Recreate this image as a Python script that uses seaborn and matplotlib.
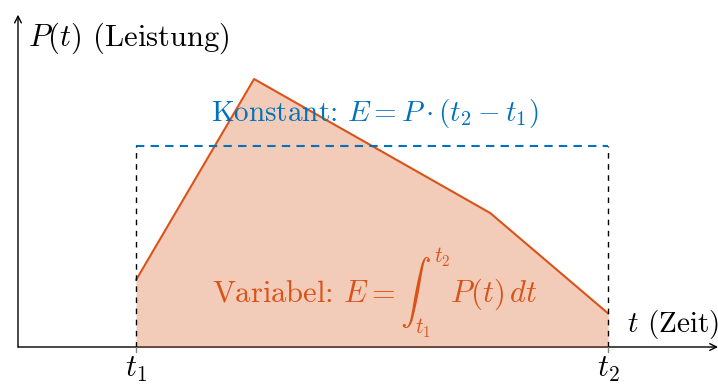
import matplotlib
matplotlib.use("Agg")
import matplotlib.pyplot as plt
import seaborn as sns
import pandas as pd

# power curve (time, power)
t_points = [1, 2, 4, 5]
p_points = [1, 4, 2, 0.5]
t1, t2 = 1, 5
p_const = 3
x_max, y_max = 5.93, 4.96

orange = "#d95319"
blue = "#0072bd"

sns.set_theme(style="white")
plt.rcParams["mathtext.fontset"] = "cm"
plt.rcParams["font.family"] = ["cmr10", "DejaVu Serif"]
plt.rcParams["axes.formatter.use_mathtext"] = True

df = pd.DataFrame({"t": t_points, "P": p_points})

fig = plt.figure(figsize=(7.18, 3.85), dpi=100)
ax = fig.add_axes([18 / 718, 38 / 385, 700 / 718, 335 / 385])
ax.set_xlim(0, x_max)
ax.set_ylim(0, 5.0)
ax.axis("off")

# axes with arrows
ax.annotate("", xy=(x_max, 0), xytext=(0, 0),
            arrowprops=dict(arrowstyle="->", color="black", lw=1, shrinkA=0, shrinkB=0),
            annotation_clip=False, zorder=1)
ax.annotate("", xy=(0, y_max), xytext=(0, 0),
            arrowprops=dict(arrowstyle="->", color="black", lw=1, shrinkA=0, shrinkB=0),
            annotation_clip=False, zorder=1)

# variable power: filled area + line
ax.fill_between(df["t"], df["P"], 0, color=orange, alpha=0.3, lw=0, zorder=2)
sns.lineplot(data=df, x="t", y="P", ax=ax, color=orange, lw=1.5, zorder=3)

# constant power rectangle
ax.plot([t1, t2], [p_const, p_const], color=blue, lw=1.5, ls=(0, (4, 3)), zorder=3)
for tv in (t1, t2):
    ax.plot([tv, tv], [0, p_const], color="black", lw=1, ls=(0, (4, 4)), zorder=4)
    ax.plot([tv, tv], [0, -0.08], color="gray", lw=1, clip_on=False, zorder=4)

# labels
fs = 22
ax.text(0.085, 4.61, r"$P(t)$ (Leistung)", fontsize=fs, ha="left", va="center", color="black")
ax.text(5.16, 0.33, r"$t$ (Zeit)", fontsize=fs - 1, ha="left", va="center", clip_on=False, color="black")
ax.text(t1, -0.34, r"$t_1$", fontsize=22, ha="center", va="center", color="black")
ax.text(t2, -0.34, r"$t_2$", fontsize=22, ha="center", va="center", color="black")
ax.text(3.02, 3.49, r"Konstant: $E = P\cdot(t_2 - t_1)$",
        fontsize=21, color=blue, ha="center", va="center", zorder=5)
ax.text(3.02, 0.8, r"Variabel: $E = \int_{t_1}^{t_2} P(t)\,dt$",
        fontsize=fs, color=orange, ha="center", va="center", zorder=5)

fig.savefig("out.png", dpi=100)
